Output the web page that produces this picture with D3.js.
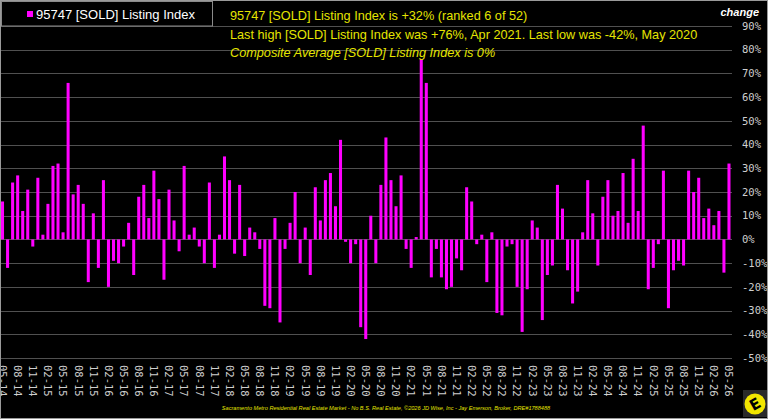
<!DOCTYPE html>
<html lang="en">
<head>
<meta charset="UTF-8">
<title>95747 [SOLD] Listing Index</title>
<script src="https://d3js.org/d3.v7.min.js"></script>
<style>
  body { margin: 0; background: #000; }
  svg { display: block; }
  .tick-label { font: 10.5px "DejaVu Sans Mono", monospace; fill: #cfcfcf; }
  .note { font-family: "Liberation Sans", Arial, sans-serif; font-size: 12.7px; fill: #e5e500; }
</style>
</head>
<body>
<script>
// first month of the series and monthly % change values (05-14 .. 05-26)
const startMonth = new Date(2014, 4, 1);
const values = [
  16, -12, 24, 27, 12, 21, -3, 26, 2, 15, 31, 32, 3, 66, 19, 23, 15, -18, 11, -12,
  25, -20, -9, -10, -3, 7, -15, 18, 23, 9, 29, 17, -17, 21, 8, -5, 31, 2, 5, -3,
  -10, 24, -12, 2, 35, 25, -6, 23, -7, 5, 3, -4, -28, -29, 9, -35, -4, 7, 20, -10,
  5, -15, 22, 8, 25, 28, 14, 42, -1, -10, -2, -37, -42, 10, -10, 23, 43, 25, 14, 27,
  -4, -12, 1, 76, 66, -16, -4, -16, -21, -20, -8, -13, 22, 16, -2, 2, -18, 3, -31, -32,
  -3, -2, -20, -39, -21, 8, 5, -34, -15, -11, 23, 13, -13, -27, -22, 3, 25, 11, -11, 18,
  25, 10, 12, 28, 7, 34, 12, 48, -21, -12, -2, 29, -29, -13, -9, -11, 29, 20, 26, 9,
  13, 6, 12, -14, 32
];
const yTicks = [90, 80, 70, 60, 50, 40, 30, 20, 10, 0, -10, -20, -30, -40, -50];
const seriesName = "95747 [SOLD] Listing Index";
const notes = [
  "95747 [SOLD] Listing Index is +32% (ranked 6 of 52)",
  "Last high [SOLD] Listing Index was +76%, Apr 2021. Last low was -42%, May 2020",
  "Composite Average [SOLD] Listing Index is 0%"
];
const footer = "Sacramento Metro Residential Real Estate Market - No B.S. Real Estate, \u00a92026 JD Wise, Inc - Jay Emerson, Broker, DRE#1788488";

const width = 768, height = 419;
const months = values.map((v, i) => d3.timeMonth.offset(startMonth, i));
const fmt = d3.timeFormat("%m-%y");

const svg = d3.select("body").append("svg")
  .attr("width", width).attr("height", height);

svg.append("rect").attr("width", width).attr("height", height).attr("fill", "#000");

const x = d3.scaleBand()
  .domain(d3.range(values.length))
  .range([0, 731.5])
  .paddingInner(0.4)
  .paddingOuter(0.2);

const y = d3.scaleLinear().domain([-50, 90]).range([358, 26]);

// gridlines
svg.append("g").selectAll("line")
  .data(yTicks).join("line")
  .attr("x1", 0).attr("x2", 732)
  .attr("y1", d => Math.round(y(d)) + 0.5).attr("y2", d => Math.round(y(d)) + 0.5)
  .attr("stroke", "#505050").attr("stroke-width", 1.2);

// y labels
svg.append("g").selectAll("text")
  .data(yTicks).join("text")
  .attr("class", "tick-label")
  .attr("x", 742).attr("y", d => y(d)).attr("dy", "0.35em")
  .text(d => d + "%");

svg.append("text")
  .attr("x", 759).attr("y", 16).attr("text-anchor", "end")
  .attr("font-family", "Liberation Sans, Arial, sans-serif")
  .attr("font-size", 11).attr("font-weight", "bold").attr("font-style", "italic")
  .attr("fill", "#fff").text("change");

// bars
svg.append("g").selectAll("rect")
  .data(values).join("rect")
  .attr("x", (d, i) => x(i))
  .attr("width", x.bandwidth())
  .attr("y", d => y(Math.max(0, d)))
  .attr("height", d => Math.abs(y(d) - y(0)))
  .attr("fill", "#f0f");

// x labels every 3 months
svg.append("g").selectAll("text")
  .data(months.filter((m, i) => i % 3 === 0)).join("text")
  .attr("class", "tick-label")
  .attr("transform", d => `translate(${x(months.indexOf(d)) + x.bandwidth() / 2},365) rotate(90)`)
  .attr("dy", "0.35em")
  .text(d => fmt(d));

// legend
svg.append("rect")
  .attr("x", 1.5).attr("y", 1.5).attr("width", 211).attr("height", 24.5)
  .attr("fill", "#000").attr("stroke", "#8a8a8a");
svg.append("rect").attr("x", 27).attr("y", 11).attr("width", 6).attr("height", 6).attr("fill", "#f0f");
svg.append("text")
  .attr("x", 36).attr("y", 18.5)
  .attr("font-family", "Liberation Sans, Arial, sans-serif").attr("font-size", 13)
  .attr("fill", "#fff").text(seriesName);

// notes
svg.append("g").selectAll("text")
  .data(notes).join("text")
  .attr("class", "note")
  .attr("x", 230).attr("y", (d, i) => 20 + i * 18.5)
  .style("font-style", (d, i) => i === 2 ? "italic" : "normal")
  .text(d => d);

// footer
svg.append("text")
  .attr("x", 386).attr("y", 410).attr("text-anchor", "middle")
  .attr("font-family", "Liberation Sans, Arial, sans-serif").attr("font-size", 5.6)
  .attr("font-style", "italic").attr("fill", "#e5e500")
  .text(footer);

// logo
const logo = svg.append("g").attr("transform", "translate(755,404)");
logo.append("rect").attr("x", -12).attr("y", -14).attr("width", 24).attr("height", 27).attr("fill", "#2a2a2a");
logo.append("circle").attr("r", 10.5).attr("fill", "#f2e600");
logo.append("text").attr("text-anchor", "middle").attr("dy", "0.36em")
  .attr("transform", "rotate(-30)")
  .attr("font-family", "DejaVu Sans, sans-serif").attr("font-weight", "bold").attr("font-size", 15)
  .attr("fill", "#000").text("E");

// outer border
svg.append("rect")
  .attr("x", 0.5).attr("y", 0.5).attr("width", width - 1).attr("height", height - 1)
  .attr("fill", "none").attr("stroke", "#9a9a9a");
</script>
</body>
</html>
